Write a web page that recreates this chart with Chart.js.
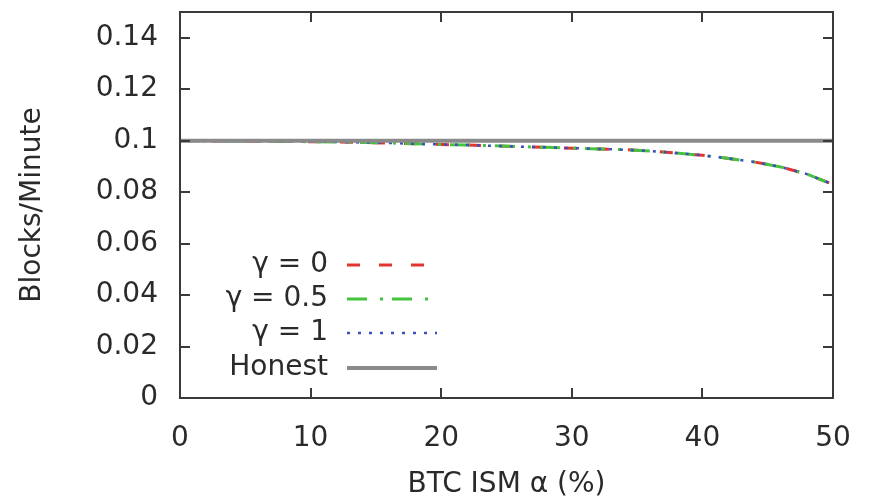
<!DOCTYPE html>
<html>
<head>
<meta charset="utf-8">
<title>Blocks per minute vs. selfish mining share</title>
<script src="https://cdn.jsdelivr.net/npm/chart.js@4.4.1/dist/chart.umd.min.js"></script>
<style>
  html, body { margin: 0; padding: 0; background: #fff; }
  #wrap { width: 873px; height: 502px; }
</style>
</head>
<body>
<div id="wrap"><canvas id="chart" width="873" height="502"></canvas></div>
<script>
// Attacker share alpha (%)
var ALPHA = [0, 2, 4, 6, 8, 10, 12, 14, 16, 18, 20, 22, 24, 26, 28, 30, 32, 34, 36, 38, 40, 42, 44, 46, 48, 50];

// Main-chain block rate for each gamma
var RATE_GAMMA_0   = [0.1000, 0.0999, 0.0999, 0.0998, 0.0997, 0.0996, 0.0995, 0.0993, 0.0991, 0.0988, 0.0985, 0.0983, 0.0980, 0.0977, 0.0974, 0.0971, 0.0968, 0.0965, 0.0960, 0.0952, 0.0943, 0.0931, 0.0917, 0.0898, 0.0870, 0.0830];
var RATE_GAMMA_05  = [0.1000, 0.0999, 0.0999, 0.0998, 0.0997, 0.0996, 0.0995, 0.0993, 0.0991, 0.0988, 0.0985, 0.0983, 0.0980, 0.0977, 0.0974, 0.0971, 0.0968, 0.0965, 0.0960, 0.0952, 0.0943, 0.0931, 0.0917, 0.0898, 0.0870, 0.0830];
var RATE_GAMMA_1   = [0.1000, 0.0999, 0.0999, 0.0998, 0.0997, 0.0996, 0.0995, 0.0993, 0.0991, 0.0988, 0.0985, 0.0983, 0.0980, 0.0977, 0.0974, 0.0971, 0.0968, 0.0965, 0.0960, 0.0952, 0.0943, 0.0931, 0.0917, 0.0898, 0.0870, 0.0830];
var RATE_HONEST    = [0.1, 0.1];
var HONEST_ALPHA   = [0, 50];

// Axis ticks
var X_TICKS = [0, 10, 20, 30, 40, 50];
var Y_TICKS = [0, 0.02, 0.04, 0.06, 0.08, 0.1, 0.12, 0.14];

var FONT = { family: '"DejaVu Sans", sans-serif', size: 28 };
var TEXT_COLOR = '#2a2a2a';

function points(xs, ys) {
    return xs.map(function (x, i) { return { x: x, y: ys[i] }; });
}

// Box around the plot with inward tick marks on all four sides
var framePlugin = {
    id: 'frame',
    afterDatasetsDraw: function (chart) {
        var ctx = chart.ctx, a = chart.chartArea;
        var xs = chart.scales.x, ys = chart.scales.y;
        var len = 10;
        ctx.save();
        ctx.strokeStyle = '#3a3a3a';
        ctx.lineWidth = 2;
        ctx.beginPath();
        X_TICKS.forEach(function (v) {
            var px = Math.round(xs.getPixelForValue(v));
            ctx.moveTo(px, a.bottom); ctx.lineTo(px, a.bottom - len);
            ctx.moveTo(px, a.top); ctx.lineTo(px, a.top + len);
        });
        Y_TICKS.forEach(function (v) {
            var py = Math.round(ys.getPixelForValue(v));
            ctx.moveTo(a.left, py); ctx.lineTo(a.left + len, py);
            ctx.moveTo(a.right, py); ctx.lineTo(a.right - len, py);
        });
        ctx.stroke();
        ctx.strokeRect(a.left, a.top, a.right - a.left, a.bottom - a.top);
        ctx.restore();
    }
};

// Key in the lower left of the plot, text right-aligned before each sample line
var keyPlugin = {
    id: 'key',
    afterDatasetsDraw: function (chart) {
        var ctx = chart.ctx;
        var textRight = 328, lineStart = 347, lineEnd = 437;
        var rowY = [265, 299, 333, 368];
        var order = [1, 2, 3, 0];
        ctx.save();
        ctx.font = FONT.size + 'px ' + FONT.family;
        ctx.textAlign = 'right';
        ctx.textBaseline = 'middle';
        order.forEach(function (di, row) {
            var ds = chart.data.datasets[di];
            var y = rowY[row];
            ctx.fillStyle = TEXT_COLOR;
            ctx.fillText(ds.label, textRight, y);
            ctx.strokeStyle = ds.borderColor;
            ctx.lineWidth = ds.borderWidth;
            ctx.setLineDash(ds.borderDash || []);
            ctx.beginPath();
            ctx.moveTo(lineStart, y);
            ctx.lineTo(lineEnd, y);
            ctx.stroke();
        });
        ctx.restore();
    }
};

var lineDefaults = { showLine: true, pointRadius: 0, fill: false, tension: 0 };

new Chart(document.getElementById('chart'), {
    type: 'scatter',
    data: {
        datasets: [
            Object.assign({
                label: 'Honest',
                data: points(HONEST_ALPHA, RATE_HONEST),
                borderColor: '#8a8a8a',
                borderWidth: 4,
                order: 0
            }, lineDefaults),
            Object.assign({
                label: 'γ = 0',
                data: points(ALPHA, RATE_GAMMA_0),
                borderColor: '#e3352e',
                borderWidth: 3,
                borderDash: [13, 19],
                order: 3
            }, lineDefaults),
            Object.assign({
                label: 'γ = 0.5',
                data: points(ALPHA, RATE_GAMMA_05),
                borderColor: '#45c33f',
                borderWidth: 3,
                borderDash: [20, 13, 3, 9],
                order: 2
            }, lineDefaults),
            Object.assign({
                label: 'γ = 1',
                data: points(ALPHA, RATE_GAMMA_1),
                borderColor: '#3c4fbf',
                borderWidth: 2.5,
                borderDash: [3, 8],
                order: 1
            }, lineDefaults)
        ]
    },
    options: {
        responsive: false,
        animation: false,
        events: [],
        layout: { padding: { left: 0, top: 12, right: 40, bottom: 0 } },
        plugins: {
            legend: { display: false },
            tooltip: { enabled: false }
        },
        scales: {
            x: {
                type: 'linear',
                min: 0,
                max: 50,
                grid: { display: false, drawTicks: false },
                border: { display: false },
                afterBuildTicks: function (scale) {
                    scale.ticks = X_TICKS.map(function (v) { return { value: v }; });
                },
                afterFit: function (scale) {
                    scale.height = 104;
                    scale.paddingLeft = 0;
                    scale.paddingRight = 0;
                },
                ticks: {
                    font: FONT,
                    color: TEXT_COLOR,
                    padding: 24,
                    maxRotation: 0,
                    callback: function (v) { return String(v); }
                },
                title: {
                    display: true,
                    text: 'BTC ISM α (%)',
                    font: FONT,
                    color: TEXT_COLOR,
                    padding: { top: 0, bottom: 0 }
                }
            },
            y: {
                type: 'linear',
                min: 0,
                max: 0.15,
                grid: { display: false, drawTicks: false },
                border: { display: false },
                afterBuildTicks: function (scale) {
                    scale.ticks = Y_TICKS.map(function (v) { return { value: v }; });
                },
                afterFit: function (scale) {
                    scale.width = 180;
                    scale.paddingTop = 0;
                    scale.paddingBottom = 0;
                },
                ticks: {
                    font: FONT,
                    color: TEXT_COLOR,
                    padding: 22,
                    callback: function (v) { return String(Number(v.toFixed(2))); }
                },
                title: {
                    display: true,
                    text: 'Blocks/Minute',
                    font: FONT,
                    color: TEXT_COLOR,
                    padding: { top: 16, bottom: 0 }
                }
            }
        }
    },
    plugins: [framePlugin, keyPlugin]
});
</script>
</body>
</html>
